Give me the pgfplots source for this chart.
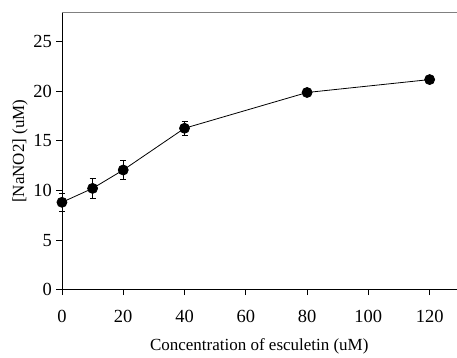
\documentclass[border=0pt]{standalone}
\usepackage{fontspec}
\setmainfont{Liberation Serif}
\usepackage{pgfplots}
\pgfplotsset{compat=1.18}
\begin{document}
\begin{tikzpicture}
\begin{axis}[
  scale only axis,
  width=395pt, height=277.5pt,
  xmin=0, xmax=128.8,
  ymin=0, ymax=27.9,
  axis x line*=bottom,
  axis y line*=left,
  axis line style={line width=0.8pt, -},
  xtick={0,20,40,60,80,100,120},
  ytick={0,5,10,15,20,25},
  tick align=outside,
  major tick length=5.5pt,
  tick style={line width=0.8pt, black},
  font=\fontsize{17}{20}\selectfont,
  tick label style={font=\fontsize{18.5}{21}\selectfont},
  /pgf/number format/assume math mode=true,
  xticklabel style={yshift=-11pt},
  yticklabel style={xshift=-1pt},
  xlabel={Concentration of esculetin (uM)},
  ylabel={[NaNO2] (uM)},
  every axis x label/.style={at={(axis description cs:0.5,-0.203)},anchor=center},
  every axis y label/.style={at={(axis description cs:-0.106,0.5)},anchor=center,rotate=90},
  clip=false,
]
\addplot[black, line width=0.8pt, mark=*, mark size=5pt,
  error bars/.cd, y dir=both, y explicit, error bar style={line width=0.8pt}, error mark options={rotate=90, mark size=3pt, line width=0.8pt}]
  coordinates {
  (0,8.8) +- (0,0.92)
  (10,10.2) +- (0,1.05)
  (20,12.05) +- (0,0.98)
  (40,16.25) +- (0,0.68)
  (80,19.85) +- (0,0.2)
  (120,21.15) +- (0,0.3)
};
\draw[gray, line width=0.8pt] (rel axis cs:0,1) -- (rel axis cs:1,1);
\end{axis}
\useasboundingbox (-62pt,-66pt) rectangle (395pt,290pt);
\end{tikzpicture}
\end{document}
